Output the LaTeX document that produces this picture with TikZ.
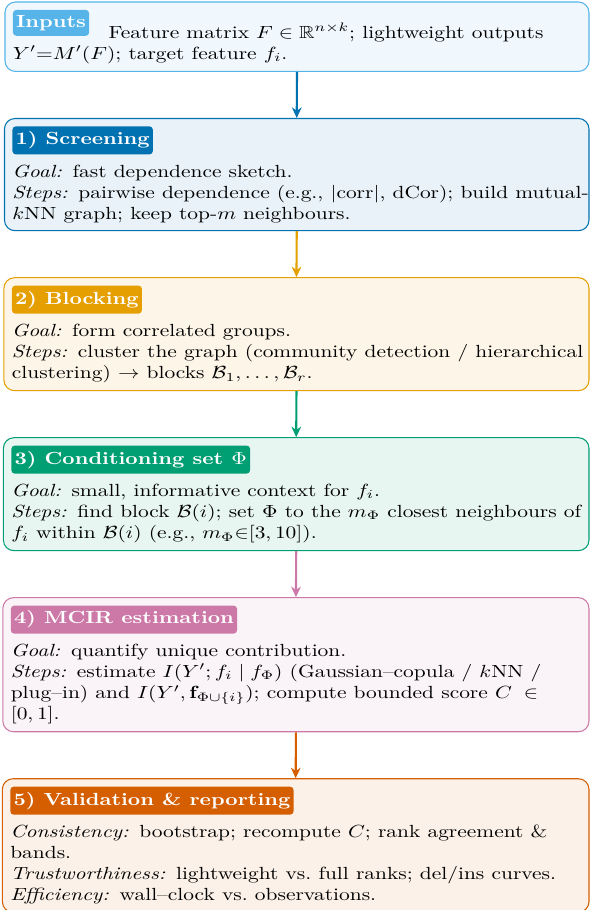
\documentclass[tikz,border=0pt]{standalone}
\usepackage{amsmath,amssymb}
\usetikzlibrary{positioning,fit,backgrounds,arrows.meta}

\definecolor{cInputs}{HTML}{56B4E9}
\definecolor{cScreen}{HTML}{0072B2}
\definecolor{cBlock}{HTML}{E69F00}
\definecolor{cCond}{HTML}{009E73}
\definecolor{cMcir}{HTML}{CC79A7}
\definecolor{cValid}{HTML}{D55E00}

\tikzset{
    tagbox/.style={fill=#1, rounded corners=2pt, text=white, font=\bfseries, inner xsep=1.5pt, inner ysep=3pt, xscale=1.22},
    body/.style={text width=9.6cm, inner sep=0pt, align=left, xscale=1.22},
    frame/.style={draw=#1, fill=#1!9, rounded corners=6pt, line width=0.6pt, inner sep=0.15cm},
    flow/.style={draw=#1, line width=1.2pt, -{Stealth[length=6pt,width=5.5pt]}}
}

\begin{document}
\begin{tikzpicture}
    % Fix the size of the page
    \useasboundingbox (0,0) rectangle (11.8,-18.2);
    % Right border of the boxes
    \coordinate (rim) at (11.63,0);

    % Inputs
    \node[tagbox=cInputs, anchor=north west] (intag) at (0.25,-0.19) {Inputs};
    \node[body, anchor=north west] (intext) at (intag.west)
        {\hspace*{1.57cm}Feature matrix $F\in\mathbb{R}^{n\times k}$; lightweight outputs\\
         $Y'{=}M'(F)$; target feature $f_i$.};
    \begin{scope}[on background layer]
        \node[frame=cInputs, fit=(intag)(intext.south west)(intag.north -| rim)] (inbox) {};
    \end{scope}

    % 1) Screening
    \node[tagbox=cScreen, below right=1.08cm and 0.15cm of inbox.south west] (sctag) {1) Screening};
    \node[body, below right=0.19cm and 0cm of sctag.south west] (sctext)
        {\emph{Goal:} fast dependence sketch.\\
         \emph{Steps:} pairwise dependence (e.g., $|$corr$|$, dCor); build mutual-\\
         $k$NN graph; keep top-$m$ neighbours.};
    \begin{scope}[on background layer]
        \node[frame=cScreen, fit=(sctag)(sctext.south west)(sctag.north -| rim)] (scbox) {};
    \end{scope}

    % 2) Blocking
    \node[tagbox=cBlock, below right=1.08cm and 0.15cm of scbox.south west] (bltag) {2) Blocking};
    \node[body, below right=0.19cm and 0cm of bltag.south west] (bltext)
        {\emph{Goal:} form correlated groups.\\
         \emph{Steps:} cluster the graph (community detection / hierarchical\\
         clustering) $\to$ blocks $\mathcal{B}_1,\dots,\mathcal{B}_r$.};
    \begin{scope}[on background layer]
        \node[frame=cBlock, fit=(bltag)(bltext.south west)(bltag.north -| rim)] (blbox) {};
    \end{scope}

    % 3) Conditioning set
    \node[tagbox=cCond, below right=1.08cm and 0.15cm of blbox.south west] (cotag) {3) Conditioning set $\Phi$};
    \node[body, below right=0.19cm and 0cm of cotag.south west] (cotext)
        {\emph{Goal:} small, informative context for $f_i$.\\
         \emph{Steps:} find block $\mathcal{B}(i)$; set $\Phi$ to the $m_\Phi$ closest neighbours of\\
         $f_i$ within $\mathcal{B}(i)$ (e.g., $m_\Phi{\in}[3,10]$).};
    \begin{scope}[on background layer]
        \node[frame=cCond, fit=(cotag)(cotext.south west)(cotag.north -| rim)] (cobox) {};
    \end{scope}

    % 4) MCIR estimation
    \node[tagbox=cMcir, below right=1.08cm and 0.15cm of cobox.south west] (mctag) {4) MCIR estimation};
    \node[body, below right=0.19cm and 0cm of mctag.south west] (mctext)
        {\emph{Goal:} quantify unique contribution.\\
         \emph{Steps:} estimate $I(Y';f_i\mid f_\Phi)$ (Gaussian--copula / $k$NN /\\
         plug--in) and $I(Y',\mathbf{f}_{\Phi\cup\{i\}})$; compute bounded score $C\;\in$\\
         $[0,1]$.};
    \begin{scope}[on background layer]
        \node[frame=cMcir, fit=(mctag)(mctext.south west)(mctag.north -| rim)] (mcbox) {};
    \end{scope}

    % 5) Validation & reporting
    \node[tagbox=cValid, below right=1.08cm and 0.15cm of mcbox.south west] (vatag) {5) Validation \& reporting};
    \node[body, below right=0.19cm and 0cm of vatag.south west] (vatext)
        {\emph{Consistency:} bootstrap; recompute $C$; rank agreement \&\\
         bands.\\
         \emph{Trustworthiness:} lightweight vs.\ full ranks; del/ins curves.\\
         \emph{Efficiency:} wall--clock vs.\ observations.};
    \begin{scope}[on background layer]
        \node[frame=cValid, fit=(vatag)(vatext.south west)(vatag.north -| rim)] (vabox) {};
    \end{scope}

    % Arrows between the stages
    \draw[flow=cScreen] (inbox.south) -- (scbox.north);
    \draw[flow=cBlock] (scbox.south) -- (blbox.north);
    \draw[flow=cCond] (blbox.south) -- (cobox.north);
    \draw[flow=cMcir] (cobox.south) -- (mcbox.north);
    \draw[flow=cValid] (mcbox.south) -- (vabox.north);

\end{tikzpicture}
\end{document}
